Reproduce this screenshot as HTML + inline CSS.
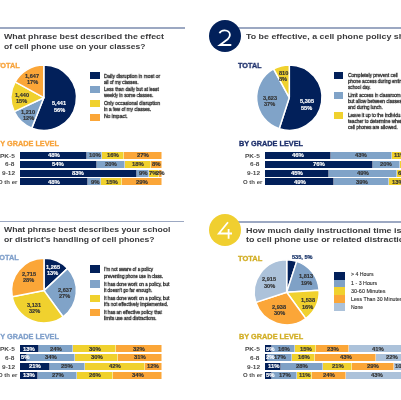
<!DOCTYPE html><html><head><meta charset="utf-8"><style>
html,body{margin:0;padding:0;background:#fff;width:401px;height:400px;overflow:hidden;position:relative}
div{position:absolute;white-space:pre}
.x{font-family:"Liberation Sans",sans-serif;line-height:10px;height:10px;transform-origin:0 0;will-change:transform}
svg{position:absolute;left:0;top:0}
#wrap{position:absolute;left:0;top:0;width:460px;height:420px;filter:blur(0.4px)}
</style></head><body><div id="wrap">
<div style="left:-30px;top:27.4px;width:215.4px;height:1.8px;background:#9ca8c2"></div>
<div style="left:225px;top:27.4px;width:200px;height:1.8px;background:#9ca8c2"></div>
<div style="left:-30px;top:220.7px;width:214.2px;height:1.8px;background:#9ca8c2"></div>
<div style="left:225px;top:220.9px;width:200px;height:1.8px;background:#9ca8c2"></div>
<div style="left:208.5px;top:20.3px;width:32.2px;height:32.2px;border-radius:50%;background:#02205a"></div>
<div style="left:208.7px;top:213.6px;width:32.2px;height:32.2px;border-radius:50%;background:#f0cf30"></div>
<svg width="401" height="400" viewBox="0 0 401 400">
<path d="M43.80,97.70 L43.80,65.00 A32.7,32.7 0 1 1 31.76,128.10 Z" fill="#02205a" stroke="#fff" stroke-width="1.5" stroke-linejoin="round"/>
<path d="M43.80,97.70 L31.76,128.10 A32.7,32.7 0 0 1 14.21,111.62 Z" fill="#80a3c8" stroke="#fff" stroke-width="1.5" stroke-linejoin="round"/>
<path d="M43.80,97.70 L14.21,111.62 A32.7,32.7 0 0 1 15.14,81.95 Z" fill="#f0d12e" stroke="#fff" stroke-width="1.5" stroke-linejoin="round"/>
<path d="M43.80,97.70 L15.14,81.95 A32.7,32.7 0 0 1 43.80,65.00 Z" fill="#fba638" stroke="#fff" stroke-width="1.5" stroke-linejoin="round"/>
<path d="M289.30,97.60 L289.30,64.90 A32.7,32.7 0 1 1 279.20,128.70 Z" fill="#02205a" stroke="#fff" stroke-width="1.5" stroke-linejoin="round"/>
<path d="M289.30,97.60 L279.20,128.70 A32.7,32.7 0 0 1 273.55,68.94 Z" fill="#80a3c8" stroke="#fff" stroke-width="1.5" stroke-linejoin="round"/>
<path d="M289.30,97.60 L273.55,68.94 A32.7,32.7 0 0 1 289.30,64.90 Z" fill="#f0d12e" stroke="#fff" stroke-width="1.5" stroke-linejoin="round"/>
<path d="M44.00,290.60 L44.00,258.20 A32.4,32.4 0 0 1 67.62,268.42 Z" fill="#02205a" stroke="#fff" stroke-width="1.5" stroke-linejoin="round"/>
<path d="M44.00,290.60 L67.62,268.42 A32.4,32.4 0 0 1 63.04,316.81 Z" fill="#80a3c8" stroke="#fff" stroke-width="1.5" stroke-linejoin="round"/>
<path d="M44.00,290.60 L63.04,316.81 A32.4,32.4 0 0 1 12.17,296.67 Z" fill="#f0d12e" stroke="#fff" stroke-width="1.5" stroke-linejoin="round"/>
<path d="M44.00,290.60 L12.17,296.67 A32.4,32.4 0 0 1 44.00,258.20 Z" fill="#fba638" stroke="#fff" stroke-width="1.5" stroke-linejoin="round"/>
<path d="M286.70,292.30 L286.70,259.80 A32.5,32.5 0 0 1 296.74,261.39 Z" fill="#02205a" stroke="#fff" stroke-width="1.5" stroke-linejoin="round"/>
<path d="M286.70,292.30 L296.74,261.39 A32.5,32.5 0 0 1 319.14,290.26 Z" fill="#7fa1c6" stroke="#fff" stroke-width="1.5" stroke-linejoin="round"/>
<path d="M286.70,292.30 L319.14,290.26 A32.5,32.5 0 0 1 305.80,318.59 Z" fill="#f0d12e" stroke="#fff" stroke-width="1.5" stroke-linejoin="round"/>
<path d="M286.70,292.30 L305.80,318.59 A32.5,32.5 0 0 1 255.79,302.34 Z" fill="#fba638" stroke="#fff" stroke-width="1.5" stroke-linejoin="round"/>
<path d="M286.70,292.30 L255.79,302.34 A32.5,32.5 0 0 1 286.70,259.80 Z" fill="#acc2da" stroke="#fff" stroke-width="1.5" stroke-linejoin="round"/>
<path d="M219.5,33.3 C220.3,31.2 222.3,30.3 224.7,30.3 C227.7,30.3 229.9,32.2 229.9,34.9 C229.9,36.7 229.0,37.9 227.6,39.3 L219.9,45.0 L231.3,45.0" fill="none" stroke="#fff" stroke-width="1.8" stroke-linejoin="miter"/>
<path d="M228.0,222.3 L218.8,233.5 L232.0,233.5 M228.6,229.0 L228.6,238.8" fill="none" stroke="#fff" stroke-width="1.8" stroke-linejoin="miter"/>
</svg>
<div style="left:20.00px;top:152.00px;width:67.49px;height:7.0px;background:#02205a;box-shadow:inset -0.6px 0 0 rgba(255,255,255,.8)"></div>
<div style="left:87.49px;top:152.00px;width:14.06px;height:7.0px;background:#80a3c8;box-shadow:inset -0.6px 0 0 rgba(255,255,255,.8)"></div>
<div style="left:101.54px;top:152.00px;width:22.50px;height:7.0px;background:#f0d12e;box-shadow:inset -0.6px 0 0 rgba(255,255,255,.8)"></div>
<div style="left:124.04px;top:152.00px;width:37.96px;height:7.0px;background:#fba638;box-shadow:inset -0.6px 0 0 rgba(255,255,255,.8)"></div>
<div style="left:20.00px;top:160.80px;width:76.68px;height:7.0px;background:#02205a;box-shadow:inset -0.6px 0 0 rgba(255,255,255,.8)"></div>
<div style="left:96.68px;top:160.80px;width:28.40px;height:7.0px;background:#80a3c8;box-shadow:inset -0.6px 0 0 rgba(255,255,255,.8)"></div>
<div style="left:125.08px;top:160.80px;width:25.56px;height:7.0px;background:#f0d12e;box-shadow:inset -0.6px 0 0 rgba(255,255,255,.8)"></div>
<div style="left:150.64px;top:160.80px;width:11.36px;height:7.0px;background:#fba638;box-shadow:inset -0.6px 0 0 rgba(255,255,255,.8)"></div>
<div style="left:20.00px;top:169.60px;width:116.69px;height:7.0px;background:#02205a;box-shadow:inset -0.6px 0 0 rgba(255,255,255,.8)"></div>
<div style="left:136.69px;top:169.60px;width:12.65px;height:7.0px;background:#80a3c8;box-shadow:inset -0.6px 0 0 rgba(255,255,255,.8)"></div>
<div style="left:149.35px;top:169.60px;width:9.84px;height:7.0px;background:#f0d12e;box-shadow:inset -0.6px 0 0 rgba(255,255,255,.8)"></div>
<div style="left:159.19px;top:169.60px;width:2.81px;height:7.0px;background:#fba638;box-shadow:inset -0.6px 0 0 rgba(255,255,255,.8)"></div>
<div style="left:20.00px;top:178.40px;width:68.44px;height:7.0px;background:#02205a;box-shadow:inset -0.6px 0 0 rgba(255,255,255,.8)"></div>
<div style="left:88.44px;top:178.40px;width:12.92px;height:7.0px;background:#80a3c8;box-shadow:inset -0.6px 0 0 rgba(255,255,255,.8)"></div>
<div style="left:101.37px;top:178.40px;width:20.16px;height:7.0px;background:#f0d12e;box-shadow:inset -0.6px 0 0 rgba(255,255,255,.8)"></div>
<div style="left:121.53px;top:178.40px;width:40.47px;height:7.0px;background:#fba638;box-shadow:inset -0.6px 0 0 rgba(255,255,255,.8)"></div>
<div style="left:265.30px;top:152.00px;width:65.32px;height:7.0px;background:#02205a;box-shadow:inset -0.6px 0 0 rgba(255,255,255,.8)"></div>
<div style="left:330.62px;top:152.00px;width:61.06px;height:7.0px;background:#80a3c8;box-shadow:inset -0.6px 0 0 rgba(255,255,255,.8)"></div>
<div style="left:391.68px;top:152.00px;width:15.62px;height:7.0px;background:#f0d12e;box-shadow:inset -0.6px 0 0 rgba(255,255,255,.8)"></div>
<div style="left:265.30px;top:160.80px;width:107.49px;height:7.0px;background:#02205a;box-shadow:inset -0.6px 0 0 rgba(255,255,255,.8)"></div>
<div style="left:372.79px;top:160.80px;width:27.12px;height:7.0px;background:#80a3c8;box-shadow:inset -0.6px 0 0 rgba(255,255,255,.8)"></div>
<div style="left:399.92px;top:160.80px;width:7.38px;height:7.0px;background:#f0d12e;box-shadow:inset -0.6px 0 0 rgba(255,255,255,.8)"></div>
<div style="left:265.30px;top:169.60px;width:63.33px;height:7.0px;background:#02205a;box-shadow:inset -0.6px 0 0 rgba(255,255,255,.8)"></div>
<div style="left:328.63px;top:169.60px;width:68.73px;height:7.0px;background:#80a3c8;box-shadow:inset -0.6px 0 0 rgba(255,255,255,.8)"></div>
<div style="left:397.36px;top:169.60px;width:9.94px;height:7.0px;background:#f0d12e;box-shadow:inset -0.6px 0 0 rgba(255,255,255,.8)"></div>
<div style="left:265.30px;top:178.40px;width:68.89px;height:7.0px;background:#02205a;box-shadow:inset -0.6px 0 0 rgba(255,255,255,.8)"></div>
<div style="left:334.19px;top:178.40px;width:54.83px;height:7.0px;background:#80a3c8;box-shadow:inset -0.6px 0 0 rgba(255,255,255,.8)"></div>
<div style="left:389.02px;top:178.40px;width:18.28px;height:7.0px;background:#f0d12e;box-shadow:inset -0.6px 0 0 rgba(255,255,255,.8)"></div>
<div style="left:20.00px;top:345.40px;width:18.69px;height:7.0px;background:#02205a;box-shadow:inset -0.6px 0 0 rgba(255,255,255,.8)"></div>
<div style="left:38.69px;top:345.40px;width:34.55px;height:7.0px;background:#80a3c8;box-shadow:inset -0.6px 0 0 rgba(255,255,255,.8)"></div>
<div style="left:73.24px;top:345.40px;width:43.05px;height:7.0px;background:#f0d12e;box-shadow:inset -0.6px 0 0 rgba(255,255,255,.8)"></div>
<div style="left:116.29px;top:345.40px;width:45.31px;height:7.0px;background:#fba638;box-shadow:inset -0.6px 0 0 rgba(255,255,255,.8)"></div>
<div style="left:20.00px;top:354.20px;width:7.08px;height:7.0px;background:#02205a;box-shadow:inset -0.6px 0 0 rgba(255,255,255,.8)"></div>
<div style="left:27.08px;top:354.20px;width:48.14px;height:7.0px;background:#80a3c8;box-shadow:inset -0.6px 0 0 rgba(255,255,255,.8)"></div>
<div style="left:75.22px;top:354.20px;width:42.48px;height:7.0px;background:#f0d12e;box-shadow:inset -0.6px 0 0 rgba(255,255,255,.8)"></div>
<div style="left:117.70px;top:354.20px;width:43.90px;height:7.0px;background:#fba638;box-shadow:inset -0.6px 0 0 rgba(255,255,255,.8)"></div>
<div style="left:20.00px;top:363.00px;width:29.74px;height:7.0px;background:#02205a;box-shadow:inset -0.6px 0 0 rgba(255,255,255,.8)"></div>
<div style="left:49.74px;top:363.00px;width:35.40px;height:7.0px;background:#80a3c8;box-shadow:inset -0.6px 0 0 rgba(255,255,255,.8)"></div>
<div style="left:85.14px;top:363.00px;width:59.47px;height:7.0px;background:#f0d12e;box-shadow:inset -0.6px 0 0 rgba(255,255,255,.8)"></div>
<div style="left:144.61px;top:363.00px;width:16.99px;height:7.0px;background:#fba638;box-shadow:inset -0.6px 0 0 rgba(255,255,255,.8)"></div>
<div style="left:20.00px;top:371.80px;width:18.41px;height:7.0px;background:#02205a;box-shadow:inset -0.6px 0 0 rgba(255,255,255,.8)"></div>
<div style="left:38.41px;top:371.80px;width:38.23px;height:7.0px;background:#80a3c8;box-shadow:inset -0.6px 0 0 rgba(255,255,255,.8)"></div>
<div style="left:76.64px;top:371.80px;width:36.82px;height:7.0px;background:#f0d12e;box-shadow:inset -0.6px 0 0 rgba(255,255,255,.8)"></div>
<div style="left:113.46px;top:371.80px;width:48.14px;height:7.0px;background:#fba638;box-shadow:inset -0.6px 0 0 rgba(255,255,255,.8)"></div>
<div style="left:265.30px;top:345.40px;width:7.10px;height:7.0px;background:#02205a;box-shadow:inset -0.6px 0 0 rgba(255,255,255,.8)"></div>
<div style="left:272.40px;top:345.40px;width:22.72px;height:7.0px;background:#7fa1c6;box-shadow:inset -0.6px 0 0 rgba(255,255,255,.8)"></div>
<div style="left:295.12px;top:345.40px;width:21.30px;height:7.0px;background:#f0d12e;box-shadow:inset -0.6px 0 0 rgba(255,255,255,.8)"></div>
<div style="left:316.42px;top:345.40px;width:32.66px;height:7.0px;background:#fba638;box-shadow:inset -0.6px 0 0 rgba(255,255,255,.8)"></div>
<div style="left:349.08px;top:345.40px;width:58.22px;height:7.0px;background:#acc2da;box-shadow:inset -0.6px 0 0 rgba(255,255,255,.8)"></div>
<div style="left:265.30px;top:354.20px;width:2.84px;height:7.0px;background:#02205a;box-shadow:inset -0.6px 0 0 rgba(255,255,255,.8)"></div>
<div style="left:268.14px;top:354.20px;width:24.14px;height:7.0px;background:#7fa1c6;box-shadow:inset -0.6px 0 0 rgba(255,255,255,.8)"></div>
<div style="left:292.28px;top:354.20px;width:22.72px;height:7.0px;background:#f0d12e;box-shadow:inset -0.6px 0 0 rgba(255,255,255,.8)"></div>
<div style="left:315.00px;top:354.20px;width:61.06px;height:7.0px;background:#fba638;box-shadow:inset -0.6px 0 0 rgba(255,255,255,.8)"></div>
<div style="left:376.06px;top:354.20px;width:31.24px;height:7.0px;background:#acc2da;box-shadow:inset -0.6px 0 0 rgba(255,255,255,.8)"></div>
<div style="left:265.30px;top:363.00px;width:16.19px;height:7.0px;background:#02205a;box-shadow:inset -0.6px 0 0 rgba(255,255,255,.8)"></div>
<div style="left:281.49px;top:363.00px;width:41.04px;height:7.0px;background:#7fa1c6;box-shadow:inset -0.6px 0 0 rgba(255,255,255,.8)"></div>
<div style="left:322.53px;top:363.00px;width:29.96px;height:7.0px;background:#f0d12e;box-shadow:inset -0.6px 0 0 rgba(255,255,255,.8)"></div>
<div style="left:352.49px;top:363.00px;width:41.32px;height:7.0px;background:#fba638;box-shadow:inset -0.6px 0 0 rgba(255,255,255,.8)"></div>
<div style="left:393.81px;top:363.00px;width:13.49px;height:7.0px;background:#acc2da;box-shadow:inset -0.6px 0 0 rgba(255,255,255,.8)"></div>
<div style="left:265.30px;top:371.80px;width:7.10px;height:7.0px;background:#02205a;box-shadow:inset -0.6px 0 0 rgba(255,255,255,.8)"></div>
<div style="left:272.40px;top:371.80px;width:24.14px;height:7.0px;background:#7fa1c6;box-shadow:inset -0.6px 0 0 rgba(255,255,255,.8)"></div>
<div style="left:296.54px;top:371.80px;width:15.62px;height:7.0px;background:#f0d12e;box-shadow:inset -0.6px 0 0 rgba(255,255,255,.8)"></div>
<div style="left:312.16px;top:371.80px;width:34.08px;height:7.0px;background:#fba638;box-shadow:inset -0.6px 0 0 rgba(255,255,255,.8)"></div>
<div style="left:346.24px;top:371.80px;width:61.06px;height:7.0px;background:#acc2da;box-shadow:inset -0.6px 0 0 rgba(255,255,255,.8)"></div>
<div style="left:89.9px;top:71.7px;width:10px;height:7.1px;background:#02205a"></div>
<div style="left:89.9px;top:86.2px;width:10px;height:7.1px;background:#80a3c8"></div>
<div style="left:89.9px;top:100.2px;width:10px;height:7.1px;background:#f0d12e"></div>
<div style="left:89.9px;top:114.0px;width:10px;height:7.1px;background:#fba638"></div>
<div style="left:333.7px;top:72.0px;width:9.7px;height:7.0px;background:#02205a"></div>
<div style="left:333.7px;top:91.9px;width:9.7px;height:7.0px;background:#80a3c8"></div>
<div style="left:333.7px;top:111.6px;width:9.7px;height:7.0px;background:#f0d12e"></div>
<div style="left:90.2px;top:265.4px;width:10.0px;height:7.2px;background:#02205a"></div>
<div style="left:90.2px;top:280.4px;width:10.0px;height:7.2px;background:#80a3c8"></div>
<div style="left:90.2px;top:295.0px;width:10.0px;height:7.2px;background:#f0d12e"></div>
<div style="left:90.2px;top:309.2px;width:10.0px;height:7.2px;background:#fba638"></div>
<div style="left:334.4px;top:271.70px;width:11.0px;height:7.95px;background:#02205a"></div>
<div style="left:334.4px;top:279.58px;width:11.0px;height:7.95px;background:#7fa1c6"></div>
<div style="left:334.4px;top:287.46px;width:11.0px;height:7.95px;background:#f0d12e"></div>
<div style="left:334.4px;top:295.34px;width:11.0px;height:7.95px;background:#fba638"></div>
<div style="left:334.4px;top:303.22px;width:11.0px;height:7.95px;background:#acc2da"></div>
<div class="x" style="left:4.10px;top:32.04px;font-size:7.4px;font-weight:700;color:#3a3a3c;transform:scaleX(1.1987);">What phrase best described the effect</div>
<div class="x" style="left:3.90px;top:42.04px;font-size:7.4px;font-weight:700;color:#3a3a3c;transform:scaleX(1.1524);">of cell phone use on your classes?</div>
<div class="x" style="left:246.20px;top:32.44px;font-size:7.4px;font-weight:700;color:#3a3a3c;transform:scaleX(1.1968);">To be effective, a cell phone policy should:</div>
<div class="x" style="left:4.20px;top:225.24px;font-size:7.4px;font-weight:700;color:#3a3a3c;transform:scaleX(1.1716);">What phrase best describes your school</div>
<div class="x" style="left:4.10px;top:235.44px;font-size:7.4px;font-weight:700;color:#3a3a3c;transform:scaleX(1.1669);">or district’s handling of cell phones?</div>
<div class="x" style="left:246.20px;top:225.64px;font-size:7.4px;font-weight:700;color:#3a3a3c;transform:scaleX(1.2142);">How much daily instructional time is lost</div>
<div class="x" style="left:246.20px;top:235.34px;font-size:7.4px;font-weight:700;color:#3a3a3c;transform:scaleX(1.2044);">to cell phone use or related distractions?</div>
<div class="x" style="left:-3.85px;top:61.07px;font-size:7.3px;font-weight:700;color:#f7a33b;transform:scaleX(1.0000);-webkit-text-stroke:0.3px currentColor">TOTAL</div>
<div class="x" style="left:238.30px;top:61.47px;font-size:7.3px;font-weight:700;color:#1d2f6b;transform:scaleX(0.9893);-webkit-text-stroke:0.3px currentColor">TOTAL</div>
<div class="x" style="left:-4.75px;top:253.37px;font-size:7.3px;font-weight:700;color:#7f9fca;transform:scaleX(1.0000);-webkit-text-stroke:0.3px currentColor">TOTAL</div>
<div class="x" style="left:238.20px;top:253.67px;font-size:7.3px;font-weight:700;color:#d2ae26;transform:scaleX(1.0315);-webkit-text-stroke:0.3px currentColor">TOTAL</div>
<div class="x" style="left:-4.95px;top:138.87px;font-size:7.3px;font-weight:700;color:#f7a33b;transform:scaleX(1.0000);-webkit-text-stroke:0.3px currentColor">BY GRADE LEVEL</div>
<div class="x" style="left:238.60px;top:139.07px;font-size:7.3px;font-weight:700;color:#1d2f6b;transform:scaleX(1.0007);-webkit-text-stroke:0.3px currentColor">BY GRADE LEVEL</div>
<div class="x" style="left:-4.75px;top:331.97px;font-size:7.3px;font-weight:700;color:#7f9fca;transform:scaleX(1.0000);-webkit-text-stroke:0.3px currentColor">BY GRADE LEVEL</div>
<div class="x" style="left:238.60px;top:331.87px;font-size:7.3px;font-weight:700;color:#d2ae26;transform:scaleX(1.0039);-webkit-text-stroke:0.3px currentColor">BY GRADE LEVEL</div>
<div class="x" style="left:25.49px;top:70.86px;font-size:5.6px;font-weight:700;color:#333333;transform:scaleX(1.0000);-webkit-text-stroke:0.15px currentColor">1,647</div>
<div class="x" style="left:26.90px;top:76.86px;font-size:5.6px;font-weight:700;color:#333333;transform:scaleX(1.0000);-webkit-text-stroke:0.15px currentColor">17%</div>
<div class="x" style="left:14.99px;top:89.66px;font-size:5.6px;font-weight:700;color:#333333;transform:scaleX(1.0000);-webkit-text-stroke:0.15px currentColor">1,440</div>
<div class="x" style="left:16.40px;top:96.46px;font-size:5.6px;font-weight:700;color:#333333;transform:scaleX(1.0000);-webkit-text-stroke:0.15px currentColor">15%</div>
<div class="x" style="left:21.19px;top:107.26px;font-size:5.6px;font-weight:700;color:#333333;transform:scaleX(1.0000);-webkit-text-stroke:0.15px currentColor">1,210</div>
<div class="x" style="left:22.60px;top:113.46px;font-size:5.6px;font-weight:700;color:#333333;transform:scaleX(1.0000);-webkit-text-stroke:0.15px currentColor">12%</div>
<div class="x" style="left:52.09px;top:98.26px;font-size:5.6px;font-weight:700;color:#fff;transform:scaleX(1.0000);-webkit-text-stroke:0.15px currentColor">5,441</div>
<div class="x" style="left:53.50px;top:104.86px;font-size:5.6px;font-weight:700;color:#fff;transform:scaleX(1.0000);-webkit-text-stroke:0.15px currentColor">56%</div>
<div class="x" style="left:278.53px;top:68.26px;font-size:5.6px;font-weight:700;color:#333333;transform:scaleX(1.0000);-webkit-text-stroke:0.15px currentColor">810</div>
<div class="x" style="left:279.15px;top:74.46px;font-size:5.6px;font-weight:700;color:#333333;transform:scaleX(1.0000);-webkit-text-stroke:0.15px currentColor">8%</div>
<div class="x" style="left:262.69px;top:92.66px;font-size:5.6px;font-weight:700;color:#333333;transform:scaleX(1.0000);-webkit-text-stroke:0.15px currentColor">3,623</div>
<div class="x" style="left:264.10px;top:99.06px;font-size:5.6px;font-weight:700;color:#333333;transform:scaleX(1.0000);-webkit-text-stroke:0.15px currentColor">37%</div>
<div class="x" style="left:299.99px;top:95.96px;font-size:5.6px;font-weight:700;color:#fff;transform:scaleX(1.0000);-webkit-text-stroke:0.15px currentColor">5,305</div>
<div class="x" style="left:301.40px;top:102.56px;font-size:5.6px;font-weight:700;color:#fff;transform:scaleX(1.0000);-webkit-text-stroke:0.15px currentColor">55%</div>
<div class="x" style="left:45.69px;top:262.06px;font-size:5.6px;font-weight:700;color:#fff;transform:scaleX(1.0000);-webkit-text-stroke:0.15px currentColor">1,265</div>
<div class="x" style="left:47.10px;top:268.26px;font-size:5.6px;font-weight:700;color:#fff;transform:scaleX(1.0000);-webkit-text-stroke:0.15px currentColor">13%</div>
<div class="x" style="left:57.69px;top:284.76px;font-size:5.6px;font-weight:700;color:#333333;transform:scaleX(1.0000);-webkit-text-stroke:0.15px currentColor">2,637</div>
<div class="x" style="left:59.10px;top:291.16px;font-size:5.6px;font-weight:700;color:#333333;transform:scaleX(1.0000);-webkit-text-stroke:0.15px currentColor">27%</div>
<div class="x" style="left:27.19px;top:300.26px;font-size:5.6px;font-weight:700;color:#333333;transform:scaleX(1.0000);-webkit-text-stroke:0.15px currentColor">3,131</div>
<div class="x" style="left:28.60px;top:306.46px;font-size:5.6px;font-weight:700;color:#333333;transform:scaleX(1.0000);-webkit-text-stroke:0.15px currentColor">32%</div>
<div class="x" style="left:21.89px;top:269.26px;font-size:5.6px;font-weight:700;color:#333333;transform:scaleX(1.0000);-webkit-text-stroke:0.15px currentColor">2,715</div>
<div class="x" style="left:23.30px;top:275.46px;font-size:5.6px;font-weight:700;color:#333333;transform:scaleX(1.0000);-webkit-text-stroke:0.15px currentColor">28%</div>
<div class="x" style="left:292.43px;top:252.06px;font-size:5.6px;font-weight:700;color:#02205a;transform:scaleX(1.0000);-webkit-text-stroke:0.15px currentColor">535, 5%</div>
<div class="x" style="left:299.19px;top:271.36px;font-size:5.6px;font-weight:700;color:#333333;transform:scaleX(1.0000);-webkit-text-stroke:0.15px currentColor">1,813</div>
<div class="x" style="left:300.60px;top:277.56px;font-size:5.6px;font-weight:700;color:#333333;transform:scaleX(1.0000);-webkit-text-stroke:0.15px currentColor">19%</div>
<div class="x" style="left:300.89px;top:295.26px;font-size:5.6px;font-weight:700;color:#333333;transform:scaleX(1.0000);-webkit-text-stroke:0.15px currentColor">1,538</div>
<div class="x" style="left:302.30px;top:302.26px;font-size:5.6px;font-weight:700;color:#333333;transform:scaleX(1.0000);-webkit-text-stroke:0.15px currentColor">16%</div>
<div class="x" style="left:272.49px;top:301.66px;font-size:5.6px;font-weight:700;color:#333333;transform:scaleX(1.0000);-webkit-text-stroke:0.15px currentColor">2,938</div>
<div class="x" style="left:273.90px;top:307.86px;font-size:5.6px;font-weight:700;color:#333333;transform:scaleX(1.0000);-webkit-text-stroke:0.15px currentColor">30%</div>
<div class="x" style="left:262.09px;top:274.16px;font-size:5.6px;font-weight:700;color:#333333;transform:scaleX(1.0000);-webkit-text-stroke:0.15px currentColor">2,915</div>
<div class="x" style="left:263.50px;top:280.76px;font-size:5.6px;font-weight:700;color:#333333;transform:scaleX(1.0000);-webkit-text-stroke:0.15px currentColor">30%</div>
<div class="x" style="left:104.30px;top:70.54px;font-size:5.5px;font-weight:400;color:#2a2a2a;transform:scaleX(0.8850);-webkit-text-stroke:0.3px currentColor">Daily disruption in most or</div>
<div class="x" style="left:104.30px;top:76.54px;font-size:5.5px;font-weight:400;color:#2a2a2a;transform:scaleX(0.8263);-webkit-text-stroke:0.3px currentColor">all of my classes.</div>
<div class="x" style="left:104.30px;top:84.34px;font-size:5.5px;font-weight:400;color:#2a2a2a;transform:scaleX(0.8430);-webkit-text-stroke:0.3px currentColor">Less than daily but at least</div>
<div class="x" style="left:104.30px;top:90.34px;font-size:5.5px;font-weight:400;color:#2a2a2a;transform:scaleX(0.8340);-webkit-text-stroke:0.3px currentColor">weekly in some classes.</div>
<div class="x" style="left:104.30px;top:97.54px;font-size:5.5px;font-weight:400;color:#2a2a2a;transform:scaleX(0.8723);-webkit-text-stroke:0.3px currentColor">Only occasional disruption</div>
<div class="x" style="left:104.30px;top:104.04px;font-size:5.5px;font-weight:400;color:#2a2a2a;transform:scaleX(0.8531);-webkit-text-stroke:0.3px currentColor">in a few of my classes.</div>
<div class="x" style="left:104.30px;top:110.54px;font-size:5.5px;font-weight:400;color:#2a2a2a;transform:scaleX(0.8978);-webkit-text-stroke:0.3px currentColor">No impact.</div>
<div class="x" style="left:347.50px;top:70.34px;font-size:5.5px;font-weight:400;color:#2a2a2a;transform:scaleX(0.8694);-webkit-text-stroke:0.3px currentColor">Completely prevent cell</div>
<div class="x" style="left:347.50px;top:76.24px;font-size:5.5px;font-weight:400;color:#2a2a2a;transform:scaleX(0.8399);-webkit-text-stroke:0.3px currentColor">phone access during entire</div>
<div class="x" style="left:347.50px;top:82.14px;font-size:5.5px;font-weight:400;color:#2a2a2a;transform:scaleX(0.8280);-webkit-text-stroke:0.3px currentColor">school day.</div>
<div class="x" style="left:347.50px;top:90.34px;font-size:5.5px;font-weight:400;color:#2a2a2a;transform:scaleX(0.8399);-webkit-text-stroke:0.3px currentColor">Limit access in classrooms</div>
<div class="x" style="left:347.50px;top:96.14px;font-size:5.5px;font-weight:400;color:#2a2a2a;transform:scaleX(0.8399);-webkit-text-stroke:0.3px currentColor">but allow between classes</div>
<div class="x" style="left:347.50px;top:101.84px;font-size:5.5px;font-weight:400;color:#2a2a2a;transform:scaleX(0.8223);-webkit-text-stroke:0.3px currentColor">and during lunch.</div>
<div class="x" style="left:347.50px;top:109.74px;font-size:5.5px;font-weight:400;color:#2a2a2a;transform:scaleX(0.8399);-webkit-text-stroke:0.3px currentColor">Leave it up to the individual</div>
<div class="x" style="left:347.50px;top:115.64px;font-size:5.5px;font-weight:400;color:#2a2a2a;transform:scaleX(0.8399);-webkit-text-stroke:0.3px currentColor">teacher to determine when</div>
<div class="x" style="left:347.50px;top:121.54px;font-size:5.5px;font-weight:400;color:#2a2a2a;transform:scaleX(0.8399);-webkit-text-stroke:0.3px currentColor">cell phones are allowed.</div>
<div class="x" style="left:104.20px;top:264.24px;font-size:5.5px;font-weight:400;color:#2a2a2a;transform:scaleX(0.8262);-webkit-text-stroke:0.3px currentColor">I’m not aware of a policy</div>
<div class="x" style="left:104.20px;top:270.74px;font-size:5.5px;font-weight:400;color:#2a2a2a;transform:scaleX(0.7941);-webkit-text-stroke:0.3px currentColor">preventing phone use in class.</div>
<div class="x" style="left:104.20px;top:278.74px;font-size:5.5px;font-weight:400;color:#2a2a2a;transform:scaleX(0.8321);-webkit-text-stroke:0.3px currentColor">It has done work on a policy, but</div>
<div class="x" style="left:104.20px;top:285.14px;font-size:5.5px;font-weight:400;color:#2a2a2a;transform:scaleX(0.8167);-webkit-text-stroke:0.3px currentColor">it doesn’t go far enough.</div>
<div class="x" style="left:104.20px;top:292.64px;font-size:5.5px;font-weight:400;color:#2a2a2a;transform:scaleX(0.8321);-webkit-text-stroke:0.3px currentColor">It has done work on a policy, but</div>
<div class="x" style="left:104.20px;top:299.34px;font-size:5.5px;font-weight:400;color:#2a2a2a;transform:scaleX(0.8383);-webkit-text-stroke:0.3px currentColor">it’s not effectively implemented.</div>
<div class="x" style="left:104.20px;top:307.14px;font-size:5.5px;font-weight:400;color:#2a2a2a;transform:scaleX(0.8340);-webkit-text-stroke:0.3px currentColor">It has an effective policy that</div>
<div class="x" style="left:104.20px;top:313.24px;font-size:5.5px;font-weight:400;color:#2a2a2a;transform:scaleX(0.8140);-webkit-text-stroke:0.3px currentColor">limits use and distractions.</div>
<div class="x" style="left:350.70px;top:269.47px;font-size:5.0px;font-weight:400;color:#2a2a2a;transform:scaleX(1.0405);-webkit-text-stroke:0.1px currentColor">&gt; 4 Hours</div>
<div class="x" style="left:350.70px;top:277.77px;font-size:5.0px;font-weight:400;color:#2a2a2a;transform:scaleX(1.0594);-webkit-text-stroke:0.1px currentColor">1 - 3 Hours</div>
<div class="x" style="left:350.70px;top:285.77px;font-size:5.0px;font-weight:400;color:#2a2a2a;transform:scaleX(1.0888);-webkit-text-stroke:0.1px currentColor">30-60 Minutes</div>
<div class="x" style="left:350.70px;top:293.97px;font-size:5.0px;font-weight:400;color:#2a2a2a;transform:scaleX(1.0482);-webkit-text-stroke:0.1px currentColor">Less Than 30 Minutes</div>
<div class="x" style="left:350.70px;top:302.17px;font-size:5.0px;font-weight:400;color:#2a2a2a;transform:scaleX(1.0039);-webkit-text-stroke:0.1px currentColor">None</div>
<div class="x" style="left:-0.30px;top:150.57px;font-size:6.0px;font-weight:700;color:#484848;transform:scaleX(1.0900);">PK-5</div>
<div class="x" style="left:5.15px;top:159.37px;font-size:6.0px;font-weight:700;color:#484848;transform:scaleX(1.0900);">6-8</div>
<div class="x" style="left:1.51px;top:168.17px;font-size:6.0px;font-weight:700;color:#484848;transform:scaleX(1.0900);">9-12</div>
<div class="x" style="left:-2.44px;top:176.97px;font-size:6.0px;font-weight:700;color:#484848;transform:scaleX(1.0000);">O th er</div>
<div class="x" style="left:245.00px;top:150.57px;font-size:6.0px;font-weight:700;color:#484848;transform:scaleX(1.0900);">PK-5</div>
<div class="x" style="left:250.45px;top:159.37px;font-size:6.0px;font-weight:700;color:#484848;transform:scaleX(1.0900);">6-8</div>
<div class="x" style="left:246.81px;top:168.17px;font-size:6.0px;font-weight:700;color:#484848;transform:scaleX(1.0900);">9-12</div>
<div class="x" style="left:242.86px;top:176.97px;font-size:6.0px;font-weight:700;color:#484848;transform:scaleX(1.0000);">O th er</div>
<div class="x" style="left:-0.30px;top:343.97px;font-size:6.0px;font-weight:700;color:#484848;transform:scaleX(1.0900);">PK-5</div>
<div class="x" style="left:5.15px;top:352.77px;font-size:6.0px;font-weight:700;color:#484848;transform:scaleX(1.0900);">6-8</div>
<div class="x" style="left:1.51px;top:361.57px;font-size:6.0px;font-weight:700;color:#484848;transform:scaleX(1.0900);">9-12</div>
<div class="x" style="left:-2.44px;top:370.37px;font-size:6.0px;font-weight:700;color:#484848;transform:scaleX(1.0000);">O th er</div>
<div class="x" style="left:245.00px;top:343.97px;font-size:6.0px;font-weight:700;color:#484848;transform:scaleX(1.0900);">PK-5</div>
<div class="x" style="left:250.45px;top:352.77px;font-size:6.0px;font-weight:700;color:#484848;transform:scaleX(1.0900);">6-8</div>
<div class="x" style="left:246.81px;top:361.57px;font-size:6.0px;font-weight:700;color:#484848;transform:scaleX(1.0900);">9-12</div>
<div class="x" style="left:242.86px;top:370.37px;font-size:6.0px;font-weight:700;color:#484848;transform:scaleX(1.0000);">O th er</div>
<div class="x" style="left:47.80px;top:150.26px;font-size:5.5px;font-weight:700;color:#fff;transform:scaleX(1.0800);-webkit-text-stroke:0.15px currentColor">48%</div>
<div class="x" style="left:88.57px;top:150.26px;font-size:5.5px;font-weight:700;color:#333333;transform:scaleX(1.0800);-webkit-text-stroke:0.15px currentColor">10%</div>
<div class="x" style="left:106.85px;top:150.26px;font-size:5.5px;font-weight:700;color:#333333;transform:scaleX(1.0800);-webkit-text-stroke:0.15px currentColor">16%</div>
<div class="x" style="left:137.08px;top:150.26px;font-size:5.5px;font-weight:700;color:#333333;transform:scaleX(1.0800);-webkit-text-stroke:0.15px currentColor">27%</div>
<div class="x" style="left:52.40px;top:159.06px;font-size:5.5px;font-weight:700;color:#fff;transform:scaleX(1.0800);-webkit-text-stroke:0.15px currentColor">54%</div>
<div class="x" style="left:104.94px;top:159.06px;font-size:5.5px;font-weight:700;color:#333333;transform:scaleX(1.0800);-webkit-text-stroke:0.15px currentColor">20%</div>
<div class="x" style="left:131.92px;top:159.06px;font-size:5.5px;font-weight:700;color:#333333;transform:scaleX(1.0800);-webkit-text-stroke:0.15px currentColor">18%</div>
<div class="x" style="left:152.03px;top:159.06px;font-size:5.5px;font-weight:700;color:#333333;transform:scaleX(1.0800);-webkit-text-stroke:0.15px currentColor">8%</div>
<div class="x" style="left:72.40px;top:167.86px;font-size:5.5px;font-weight:700;color:#fff;transform:scaleX(1.0800);-webkit-text-stroke:0.15px currentColor">83%</div>
<div class="x" style="left:138.73px;top:167.86px;font-size:5.5px;font-weight:700;color:#333333;transform:scaleX(1.0800);-webkit-text-stroke:0.15px currentColor">9%</div>
<div class="x" style="left:149.30px;top:167.86px;font-size:5.5px;font-weight:700;color:#333333;transform:scaleX(1.0800);-webkit-text-stroke:0.15px currentColor">7%</div>
<div class="x" style="left:155.60px;top:167.86px;font-size:5.5px;font-weight:700;color:#333333;transform:scaleX(1.0800);-webkit-text-stroke:0.15px currentColor">2%</div>
<div class="x" style="left:48.28px;top:176.66px;font-size:5.5px;font-weight:700;color:#fff;transform:scaleX(1.0800);-webkit-text-stroke:0.15px currentColor">48%</div>
<div class="x" style="left:90.61px;top:176.66px;font-size:5.5px;font-weight:700;color:#333333;transform:scaleX(1.0800);-webkit-text-stroke:0.15px currentColor">9%</div>
<div class="x" style="left:105.50px;top:176.66px;font-size:5.5px;font-weight:700;color:#333333;transform:scaleX(1.0800);-webkit-text-stroke:0.15px currentColor">15%</div>
<div class="x" style="left:135.82px;top:176.66px;font-size:5.5px;font-weight:700;color:#333333;transform:scaleX(1.0800);-webkit-text-stroke:0.15px currentColor">29%</div>
<div class="x" style="left:292.02px;top:150.26px;font-size:5.5px;font-weight:700;color:#fff;transform:scaleX(1.0800);-webkit-text-stroke:0.15px currentColor">46%</div>
<div class="x" style="left:355.21px;top:150.26px;font-size:5.5px;font-weight:700;color:#333333;transform:scaleX(1.0800);-webkit-text-stroke:0.15px currentColor">43%</div>
<div class="x" style="left:393.71px;top:150.26px;font-size:5.5px;font-weight:700;color:#333333;transform:scaleX(1.0800);-webkit-text-stroke:0.15px currentColor">11%</div>
<div class="x" style="left:313.10px;top:159.06px;font-size:5.5px;font-weight:700;color:#fff;transform:scaleX(1.0800);-webkit-text-stroke:0.15px currentColor">76%</div>
<div class="x" style="left:380.41px;top:159.06px;font-size:5.5px;font-weight:700;color:#333333;transform:scaleX(1.0800);-webkit-text-stroke:0.15px currentColor">20%</div>
<div class="x" style="left:400.92px;top:159.06px;font-size:5.5px;font-weight:700;color:#333333;transform:scaleX(1.0800);-webkit-text-stroke:0.15px currentColor">4%</div>
<div class="x" style="left:291.02px;top:167.86px;font-size:5.5px;font-weight:700;color:#fff;transform:scaleX(1.0800);-webkit-text-stroke:0.15px currentColor">45%</div>
<div class="x" style="left:357.05px;top:167.86px;font-size:5.5px;font-weight:700;color:#333333;transform:scaleX(1.0800);-webkit-text-stroke:0.15px currentColor">49%</div>
<div class="x" style="left:398.36px;top:167.86px;font-size:5.5px;font-weight:700;color:#333333;transform:scaleX(1.0800);-webkit-text-stroke:0.15px currentColor">6%</div>
<div class="x" style="left:293.80px;top:176.66px;font-size:5.5px;font-weight:700;color:#fff;transform:scaleX(1.0800);-webkit-text-stroke:0.15px currentColor">49%</div>
<div class="x" style="left:355.66px;top:176.66px;font-size:5.5px;font-weight:700;color:#333333;transform:scaleX(1.0800);-webkit-text-stroke:0.15px currentColor">39%</div>
<div class="x" style="left:392.22px;top:176.66px;font-size:5.5px;font-weight:700;color:#333333;transform:scaleX(1.0800);-webkit-text-stroke:0.15px currentColor">13%</div>
<div class="x" style="left:23.40px;top:343.66px;font-size:5.5px;font-weight:700;color:#fff;transform:scaleX(1.0800);-webkit-text-stroke:0.15px currentColor">13%</div>
<div class="x" style="left:50.02px;top:343.66px;font-size:5.5px;font-weight:700;color:#333333;transform:scaleX(1.0800);-webkit-text-stroke:0.15px currentColor">24%</div>
<div class="x" style="left:88.82px;top:343.66px;font-size:5.5px;font-weight:700;color:#333333;transform:scaleX(1.0800);-webkit-text-stroke:0.15px currentColor">30%</div>
<div class="x" style="left:133.00px;top:343.66px;font-size:5.5px;font-weight:700;color:#333333;transform:scaleX(1.0800);-webkit-text-stroke:0.15px currentColor">32%</div>
<div class="x" style="left:21.00px;top:352.46px;font-size:5.5px;font-weight:700;color:#fff;transform:scaleX(1.0800);-webkit-text-stroke:0.15px currentColor">5%</div>
<div class="x" style="left:45.21px;top:352.46px;font-size:5.5px;font-weight:700;color:#333333;transform:scaleX(1.0800);-webkit-text-stroke:0.15px currentColor">34%</div>
<div class="x" style="left:90.52px;top:352.46px;font-size:5.5px;font-weight:700;color:#333333;transform:scaleX(1.0800);-webkit-text-stroke:0.15px currentColor">30%</div>
<div class="x" style="left:133.71px;top:352.46px;font-size:5.5px;font-weight:700;color:#333333;transform:scaleX(1.0800);-webkit-text-stroke:0.15px currentColor">31%</div>
<div class="x" style="left:28.92px;top:361.26px;font-size:5.5px;font-weight:700;color:#fff;transform:scaleX(1.0800);-webkit-text-stroke:0.15px currentColor">21%</div>
<div class="x" style="left:61.49px;top:361.26px;font-size:5.5px;font-weight:700;color:#333333;transform:scaleX(1.0800);-webkit-text-stroke:0.15px currentColor">25%</div>
<div class="x" style="left:108.93px;top:361.26px;font-size:5.5px;font-weight:700;color:#333333;transform:scaleX(1.0800);-webkit-text-stroke:0.15px currentColor">42%</div>
<div class="x" style="left:147.16px;top:361.26px;font-size:5.5px;font-weight:700;color:#333333;transform:scaleX(1.0800);-webkit-text-stroke:0.15px currentColor">12%</div>
<div class="x" style="left:23.26px;top:370.06px;font-size:5.5px;font-weight:700;color:#fff;transform:scaleX(1.0800);-webkit-text-stroke:0.15px currentColor">13%</div>
<div class="x" style="left:51.58px;top:370.06px;font-size:5.5px;font-weight:700;color:#333333;transform:scaleX(1.0800);-webkit-text-stroke:0.15px currentColor">27%</div>
<div class="x" style="left:89.10px;top:370.06px;font-size:5.5px;font-weight:700;color:#333333;transform:scaleX(1.0800);-webkit-text-stroke:0.15px currentColor">26%</div>
<div class="x" style="left:131.58px;top:370.06px;font-size:5.5px;font-weight:700;color:#333333;transform:scaleX(1.0800);-webkit-text-stroke:0.15px currentColor">34%</div>
<div class="x" style="left:266.30px;top:343.66px;font-size:5.5px;font-weight:700;color:#fff;transform:scaleX(1.0800);-webkit-text-stroke:0.15px currentColor">5%</div>
<div class="x" style="left:277.82px;top:343.66px;font-size:5.5px;font-weight:700;color:#333333;transform:scaleX(1.0800);-webkit-text-stroke:0.15px currentColor">16%</div>
<div class="x" style="left:299.83px;top:343.66px;font-size:5.5px;font-weight:700;color:#333333;transform:scaleX(1.0800);-webkit-text-stroke:0.15px currentColor">15%</div>
<div class="x" style="left:326.81px;top:343.66px;font-size:5.5px;font-weight:700;color:#333333;transform:scaleX(1.0800);-webkit-text-stroke:0.15px currentColor">23%</div>
<div class="x" style="left:372.25px;top:343.66px;font-size:5.5px;font-weight:700;color:#333333;transform:scaleX(1.0800);-webkit-text-stroke:0.15px currentColor">41%</div>
<div class="x" style="left:266.30px;top:352.46px;font-size:5.5px;font-weight:700;color:#fff;transform:scaleX(1.0800);-webkit-text-stroke:0.15px currentColor">2%</div>
<div class="x" style="left:274.27px;top:352.46px;font-size:5.5px;font-weight:700;color:#333333;transform:scaleX(1.0800);-webkit-text-stroke:0.15px currentColor">17%</div>
<div class="x" style="left:297.70px;top:352.46px;font-size:5.5px;font-weight:700;color:#333333;transform:scaleX(1.0800);-webkit-text-stroke:0.15px currentColor">16%</div>
<div class="x" style="left:339.59px;top:352.46px;font-size:5.5px;font-weight:700;color:#333333;transform:scaleX(1.0800);-webkit-text-stroke:0.15px currentColor">43%</div>
<div class="x" style="left:385.74px;top:352.46px;font-size:5.5px;font-weight:700;color:#333333;transform:scaleX(1.0800);-webkit-text-stroke:0.15px currentColor">22%</div>
<div class="x" style="left:267.61px;top:361.26px;font-size:5.5px;font-weight:700;color:#fff;transform:scaleX(1.0800);-webkit-text-stroke:0.15px currentColor">11%</div>
<div class="x" style="left:296.06px;top:361.26px;font-size:5.5px;font-weight:700;color:#333333;transform:scaleX(1.0800);-webkit-text-stroke:0.15px currentColor">28%</div>
<div class="x" style="left:331.56px;top:361.26px;font-size:5.5px;font-weight:700;color:#333333;transform:scaleX(1.0800);-webkit-text-stroke:0.15px currentColor">21%</div>
<div class="x" style="left:367.20px;top:361.26px;font-size:5.5px;font-weight:700;color:#333333;transform:scaleX(1.0800);-webkit-text-stroke:0.15px currentColor">29%</div>
<div class="x" style="left:394.81px;top:361.26px;font-size:5.5px;font-weight:700;color:#333333;transform:scaleX(1.0800);-webkit-text-stroke:0.15px currentColor">10%</div>
<div class="x" style="left:266.30px;top:370.06px;font-size:5.5px;font-weight:700;color:#fff;transform:scaleX(1.0800);-webkit-text-stroke:0.15px currentColor">5%</div>
<div class="x" style="left:278.53px;top:370.06px;font-size:5.5px;font-weight:700;color:#333333;transform:scaleX(1.0800);-webkit-text-stroke:0.15px currentColor">17%</div>
<div class="x" style="left:298.57px;top:370.06px;font-size:5.5px;font-weight:700;color:#333333;transform:scaleX(1.0800);-webkit-text-stroke:0.15px currentColor">11%</div>
<div class="x" style="left:323.26px;top:370.06px;font-size:5.5px;font-weight:700;color:#333333;transform:scaleX(1.0800);-webkit-text-stroke:0.15px currentColor">24%</div>
<div class="x" style="left:370.83px;top:370.06px;font-size:5.5px;font-weight:700;color:#333333;transform:scaleX(1.0800);-webkit-text-stroke:0.15px currentColor">43%</div>
</div></body></html>
